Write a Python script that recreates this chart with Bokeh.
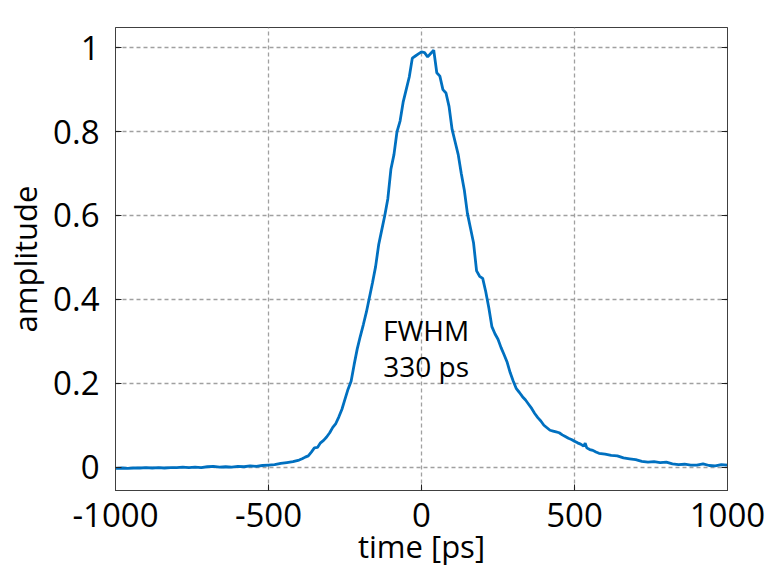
import math
from bokeh.plotting import figure
from bokeh.models import LinearAxis, Range1d, Label, FixedTicker, CustomJSTickFormatter
from bokeh.embed import file_html
from bokeh.resources import INLINE

# ---- data ----
time_ps = [-1000, -980, -960, -940, -920, -900, -880, -860, -840, -820, -800, -780, -760, -740, -720,
           -700, -680, -660, -640, -620, -600, -580, -560, -540, -520, -500, -480, -460, -440, -420,
           -400, -390, -380, -370, -360, -350, -340, -330, -320, -310, -300, -290, -280, -270, -260,
           -250, -240, -230, -220, -210, -200, -190, -180, -170, -160, -150, -140, -130, -120, -110,
           -100, -90, -80, -70, -60, -50, -40, -30, -20, -10, 0, 10, 20, 30, 40,
           50, 60, 70, 80, 90, 100, 110, 120, 130, 140, 150, 160, 170, 180, 190,
           200, 210, 220, 230, 240, 250, 260, 270, 280, 290, 300, 310, 320, 330, 340,
           350, 360, 370, 380, 390, 400, 410, 420, 430, 440, 450, 460, 470, 480, 490,
           500, 510, 520, 530, 535, 540, 550, 560, 570, 580, 600, 620, 640, 660, 680,
           700, 720, 740, 760, 780, 800, 820, 840, 860, 880, 900, 920, 940, 960, 980, 1000]
amplitude = [-0.003, -0.002, -0.003, -0.002, -0.002, -0.001, -0.002, -0.001, -0.002, -0.001, -0.001, 0.000, -0.001, 0.000, -0.001,
             0.001, 0.002, 0.000, 0.001, 0.000, 0.002, 0.001, 0.003, 0.002, 0.004, 0.005, 0.006, 0.009, 0.011, 0.013,
             0.017, 0.020, 0.024, 0.027, 0.036, 0.046, 0.047, 0.058, 0.064, 0.072, 0.082, 0.095, 0.104, 0.120, 0.138,
             0.162, 0.186, 0.205, 0.245, 0.282, 0.312, 0.340, 0.370, 0.405, 0.440, 0.478, 0.530, 0.565, 0.600, 0.640,
             0.710, 0.745, 0.800, 0.825, 0.870, 0.900, 0.930, 0.975, 0.980, 0.985, 0.990, 0.988, 0.978, 0.986, 0.994,
             0.940, 0.932, 0.900, 0.892, 0.860, 0.805, 0.775, 0.745, 0.700, 0.660, 0.605, 0.570, 0.535, 0.468, 0.455,
             0.450, 0.418, 0.380, 0.335, 0.318, 0.305, 0.285, 0.268, 0.250, 0.225, 0.205, 0.187, 0.178, 0.168, 0.160,
             0.150, 0.140, 0.128, 0.118, 0.110, 0.100, 0.094, 0.088, 0.086, 0.084, 0.082, 0.077, 0.073, 0.069, 0.066,
             0.062, 0.058, 0.055, 0.050, 0.057, 0.046, 0.042, 0.040, 0.036, 0.033, 0.031, 0.028, 0.027, 0.022, 0.020,
             0.018, 0.014, 0.012, 0.013, 0.011, 0.012, 0.008, 0.006, 0.007, 0.005, 0.005, 0.008, 0.004, 0.003, 0.006, 0.005]

x_ticks = [-1000, -500, 0, 500, 1000]
y_ticks = [0, 0.2, 0.4, 0.6, 0.8, 1]
x_label = "time [ps]"
y_label = "amplitude"
note_lines = ["FWHM", "330 ps"]

FONT = "Open Sans"

p = figure(width=768, height=576,
           min_border_left=115, min_border_right=41, min_border_top=27, min_border_bottom=86,
           x_range=Range1d(-1000, 1000), y_range=Range1d(-0.0556, 1.048),
           output_backend="svg", toolbar_location=None, background_fill_color="white")

p.outline_line_color = "#404040"
p.outline_line_width = 1

p.line(time_ps, amplitude, line_color="#0070C0", line_width=2.8)

for ax in (p.xaxis[0], p.yaxis[0]):
    ax.major_tick_in = 6
    ax.major_tick_out = 0
    ax.minor_tick_in = 0
    ax.minor_tick_out = 0
    ax.axis_line_color = "#404040"
    ax.major_tick_line_color = "#202020"
    ax.major_label_text_font = FONT
    ax.major_label_text_font_size = "33px"
    ax.major_label_text_color = "black"
    ax.axis_label_text_font = FONT
    ax.axis_label_text_font_size = "31px"
    ax.axis_label_text_font_style = "normal"
    ax.axis_label_text_color = "black"

p.xaxis[0].axis_label = x_label
p.yaxis[0].axis_label = y_label
p.xaxis[0].ticker = FixedTicker(ticks=x_ticks)
p.yaxis[0].ticker = FixedTicker(ticks=y_ticks)
p.xaxis[0].formatter = CustomJSTickFormatter(code="return String(tick);")
p.yaxis[0].formatter = CustomJSTickFormatter(code="return tick == 0 ? '0' : (tick == 1 ? '1' : tick.toFixed(1));")
p.xaxis[0].major_label_standoff = 12
p.xaxis[0].axis_label_standoff = -5
p.yaxis[0].major_label_standoff = 16
p.yaxis[0].axis_label_standoff = 4

right = LinearAxis(ticker=FixedTicker(ticks=y_ticks),
                   formatter=CustomJSTickFormatter(code="return '';"))
right.major_tick_in = 6
right.major_tick_out = 0
right.minor_tick_in = 0
right.minor_tick_out = 0
right.axis_line_color = "#404040"
right.major_tick_line_color = "#202020"
right.major_label_standoff = 0
p.add_layout(right, "right")

p.xgrid.ticker = FixedTicker(ticks=x_ticks)
p.ygrid.ticker = FixedTicker(ticks=y_ticks)
for g in (p.xgrid[0], p.ygrid[0]):
    g.grid_line_color = "#a0a0a0"
    g.grid_line_dash = "4 3"
    g.grid_line_width = 1.3

p.add_layout(Label(x=15, y=0.326, text=note_lines[0], text_font=FONT, text_font_size="28px",
                   text_align="center", text_baseline="middle", text_color="black"))
p.add_layout(Label(x=15, y=0.240, text=note_lines[1], text_font=FONT, text_font_size="28px",
                   text_align="center", text_baseline="middle", text_color="black"))

open("out.html", "w").write(file_html(p, INLINE))
